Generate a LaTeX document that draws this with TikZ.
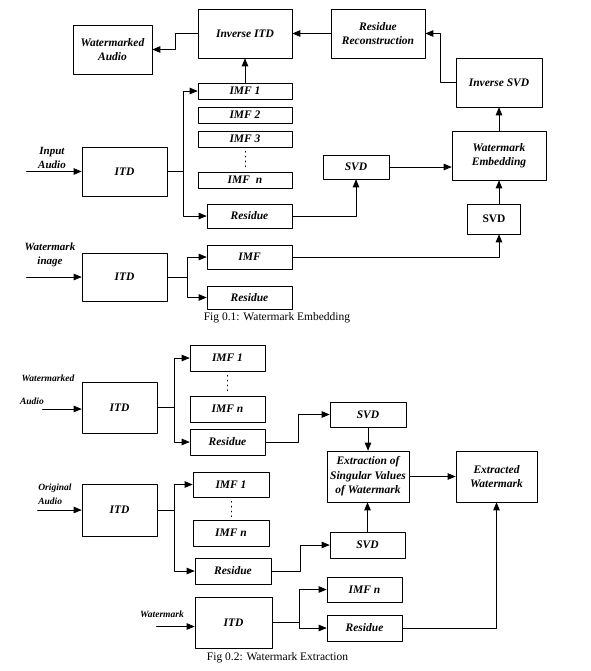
\documentclass[tikz,border=0pt]{standalone}
\usepackage{fontspec}
\setmainfont{Liberation Serif}
\usetikzlibrary{arrows}

\begin{document}
\begin{tikzpicture}[line cap=round,line join=round,>=triangle 45,x=1.0pt,y=-1.0pt,
  box/.style={draw,line width=0.8pt,inner sep=0pt,align=center,font=\fontsize{11.5}{14.5}\selectfont\bfseries\itshape},
  lbl/.style={align=center,font=\fontsize{11}{14}\selectfont\bfseries\itshape},
  small/.style={font=\fontsize{9.5}{14}\selectfont\bfseries\itshape},
  figcap/.style={font=\fontsize{11.5}{13}\selectfont},
  link/.style={line width=0.8pt},
  dots/.style={line width=1pt,dash pattern=on 0.8pt off 4pt}]
\useasboundingbox (0,0) rectangle (590,671);
\node[box,minimum width=79,minimum height=49] (wmaudio) at (112.5,49.5) {Watermarked\\Audio};
\node[box,minimum width=94,minimum height=49] (invitd) at (245,33.5) {Inverse ITD};
\node[box,minimum width=94,minimum height=49] (resrec) at (378,33.5) {Residue\\Reconstruction};
\node[box,minimum width=86,minimum height=49] (invsvd) at (499,82.5) {Inverse SVD};
\node[box,minimum width=94,minimum height=49] (wmemb) at (499,155.5) {Watermark\\Embedding};
\node[box,minimum width=66,minimum height=24] (svdA) at (356,167) {SVD};
\node[box,minimum width=53,minimum height=30,font=\fontsize{11.5}{13}\selectfont\bfseries] (svdB) at (494,219) {SVD};
\node[box,minimum width=94,minimum height=16] (imf1) at (245,91) {IMF 1};
\node[box,minimum width=94,minimum height=16] (imf2) at (245,115) {IMF 2};
\node[box,minimum width=94,minimum height=16] (imf3) at (245,139) {IMF 3};
\node[box,minimum width=94,minimum height=16] (imfn) at (245,180) {IMF\ \ n};
\node[box,minimum width=85,minimum height=49] (itdA) at (124.5,171.5) {ITD};
\node[box,minimum width=85,minimum height=24] (resA) at (249.5,216) {Residue};
\node[box,minimum width=85,minimum height=48] (itdB) at (124.5,277) {ITD};
\node[box,minimum width=85,minimum height=24] (imfB) at (249.5,257) {IMF};
\node[box,minimum width=85,minimum height=23] (resB) at (249.5,297.5) {Residue};
\node[lbl] (lblA) at (52,157.5) {Input\\Audio};
\node[lbl] (lblB) at (50,255) {Watermark\\inage};
\node[figcap] (capA) at (277,318) {Fig 0.1: Watermark Embedding};
\draw[link,->] (invitd.west) -- ++(-22,0) |- (wmaudio.east);
\draw[link,->] (imf1.north) -- (invitd.south);
\draw[link,->] (resrec.west) -- (invitd.east);
\draw[link,->] (invsvd.west) -- ++(-15,0) |- (resrec.east);
\draw[link,->] (wmemb.north) -- (invsvd.south);
\draw[link,->] (svdA.east) -- (svdA.east -| wmemb.west);
\draw[link,->] (svdB.north -| wmemb.south) -- (wmemb.south);
\draw[dots] ([yshift=-4pt]imf3.south) -- ([yshift=3pt]imfn.north);
\draw[link,->] (itdA.west) ++(-55,0) -- (itdA.west);
\draw[link] (itdA.east) -- ++(16,0) coordinate (brA);
\draw[link,->] (brA) |- (imf1.west);
\draw[link,->] (brA) |- (resA.west);
\draw[link,->] (resA.east) -| (svdA.south);
\draw[link,->] (itdB.west) ++(-55,0) -- (itdB.west);
\draw[link] (itdB.east) -- ++(20,0) coordinate (brB);
\draw[link,->] (brB) |- (imfB.west);
\draw[link,->] (brB) |- (resB.west);
\draw[link,->] (imfB.east) -| (svdB.south -| wmemb.south);
\node[box,minimum width=75,minimum height=51] (itdC) at (119.5,407.5) {ITD};
\node[box,minimum width=75,minimum height=26] (imf1C) at (227.5,358) {IMF 1};
\node[box,minimum width=75,minimum height=26] (imfnC) at (227.5,409) {IMF n};
\node[box,minimum width=75,minimum height=26] (resC) at (227.5,442) {Residue};
\node[box,minimum width=76,minimum height=25] (svdC) at (368,414.5) {SVD};
\node[box,minimum width=82,minimum height=51] (extr) at (368,476.5) {Extraction of\\Singular Values\\of Watermark};
\node[box,minimum width=81,minimum height=51] (extw) at (496.5,476.5) {Extracted\\Watermark};
\node[box,minimum width=75,minimum height=52] (itdD) at (119.5,510) {ITD};
\node[box,minimum width=76,minimum height=25] (imf1D) at (231,484.5) {IMF 1};
\node[box,minimum width=76,minimum height=26] (imfnD) at (231,533) {IMF n};
\node[box,minimum width=76,minimum height=26] (resD) at (233,571) {Residue};
\node[box,minimum width=75,minimum height=26] (svdD) at (367.5,545) {SVD};
\node[box,minimum width=77,minimum height=51] (itdE) at (233.5,622.5) {ITD};
\node[box,minimum width=75,minimum height=25] (imfnE) at (364.5,589.5) {IMF n};
\node[box,minimum width=75,minimum height=26] (resE) at (364.5,628) {Residue};
\node[small] (lblC) at (48,378) {Watermarked};
\node[small] (lblD) at (32,401) {Audio};
\node[small,align=left] (lblE) at (55,494) {Original\\Audio};
\node[small] (lblF) at (162,614) {Watermark};
\node[figcap] (capB) at (277.5,658) {Fig 0.2: Watermark Extraction};
\draw[dots] ([yshift=-4pt]imf1C.south) -- ([yshift=3pt]imfnC.north);
\draw[dots] ([yshift=-4pt]imf1D.south) -- ([yshift=3pt]imfnD.north);
\draw[link,->] ([yshift=-1.5pt]itdC.west) ++(-39,0) -- ([yshift=-1.5pt]itdC.west);
\draw[link] (itdC.east) -- ++(17,0) coordinate (brC);
\draw[link,->] (brC) |- (imf1C.west);
\draw[link,->] (brC) |- (resC.west);
\draw[link,->] (resC.east) -- ++(33,0) |- (svdC.west);
\draw[link,->] (svdC.south) -- (extr.north);
\draw[link,->] (extr.east) -- (extw.west);
\draw[link,->] (itdD.west) ++(-44,0) -- (itdD.west);
\draw[link] (itdD.east) -- ++(17,0) coordinate (brD);
\draw[link,->] (brD) |- (imf1D.west);
\draw[link,->] (brD) |- (resD.west);
\draw[link,->] (resD.east) -- ++(29,0) |- (svdD.west);
\draw[link,->] (svdD.north) -- (svdD.north |- extr.south);
\draw[link,->] ([yshift=-4pt]itdE.west) ++(-38,0) -- ([yshift=-4pt]itdE.west);
\draw[link] (itdE.east) -- ++(27,0) coordinate (brE);
\draw[link,->] (brE) |- (imfnE.west);
\draw[link,->] (brE) |- (resE.west);
\draw[link,->] (resE.east) -| (extw.south);
\end{tikzpicture}
\end{document}
